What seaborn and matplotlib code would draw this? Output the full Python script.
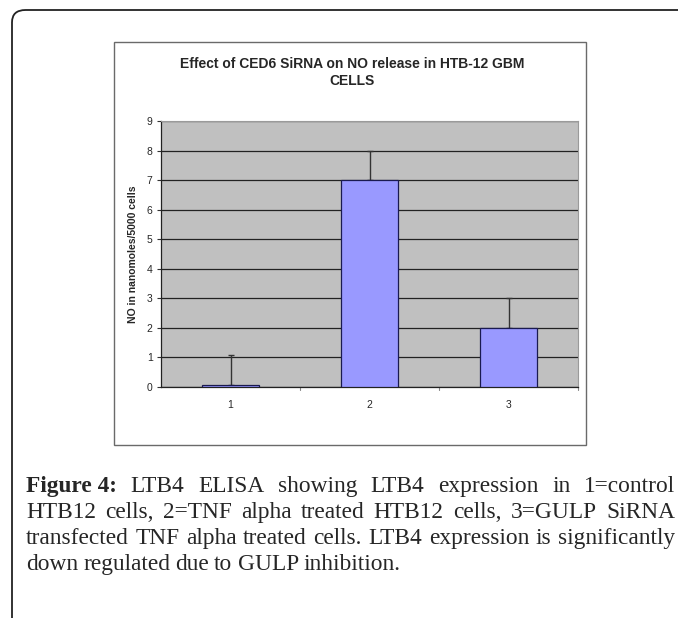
import numpy as np
import pandas as pd
import seaborn as sns
import matplotlib.pyplot as plt
from matplotlib.patches import Rectangle, FancyBboxPatch

# data
groups = ['1', '2', '3']
no_release = [0.07, 7.0, 2.0]
err_up = [1.0, 1.0, 1.0]
ytick_vals = list(range(0, 10))

title_txt = 'Effect of CED6 SiRNA on NO release in HTB-12 GBM\nCELLS'
ylab_txt = 'NO in nanomoles/5000 cells'
caption_lines = [
    'LTB4 ELISA showing LTB4 expression in 1=control',
    'HTB12 cells, 2=TNF alpha treated HTB12 cells, 3=GULP SiRNA',
    'transfected TNF alpha treated cells. LTB4 expression is significantly',
    'down regulated due to GULP inhibition.',
]

sns.set_style('white')
plt.rcParams['font.family'] = ['Liberation Sans', 'DejaVu Sans']

W, H = 678, 618
fig = plt.figure(figsize=(W / 100, H / 100), dpi=100)

def fx(px):
    return px / W

def fy(py):
    return 1 - py / H

# outer rounded box of the figure panel
outer = FancyBboxPatch((fx(12), fy(640)), fx(700), fy(10) - fy(640),
                       boxstyle='round,pad=0,rounding_size=0.02',
                       transform=fig.transFigure, fill=False,
                       edgecolor='#222222', lw=1.3)
fig.patches.append(outer)

# chart frame
frame = Rectangle((fx(114), fy(445)), fx(586) - fx(114), fy(42) - fy(445),
                  transform=fig.transFigure, fill=False,
                  edgecolor='#6a6a6a', lw=1.0)
fig.patches.append(frame)

ax = fig.add_axes([fx(161), fy(387), fx(578) - fx(161), fy(121) - fy(387)])
df = pd.DataFrame({'group': groups, 'value': no_release})
sns.barplot(data=df, x='group', y='value', color='#9999FF', width=0.41,
            edgecolor='#1a1a50', linewidth=0.9, saturation=1, errorbar=None,
            ax=ax, zorder=3)
ax.errorbar(np.arange(len(groups)), no_release,
            yerr=[np.zeros(len(groups)), err_up], fmt='none',
            ecolor='#333333', elinewidth=1.0, capsize=2.5, zorder=2)

ax.set_facecolor('#C0C0C0')
ax.set_ylim(0, 9)
ax.set_xlim(-0.5, 2.5)
ax.set_yticks(ytick_vals)
ax.yaxis.grid(True, color='#222222', lw=0.9)
ax.set_axisbelow(True)
ax.tick_params(axis='y', left=True, length=3, width=0.8, color='#333333',
               labelsize=7.5, pad=3)
ax.set_xticks(range(len(groups)))
ax.set_xticklabels(groups)
ax.tick_params(axis='x', bottom=False, labelsize=7.5, pad=6)
for b in [0.5, 1.5, 2.5]:
    ax.plot([b, b], [0, -0.1], color='#888888', lw=0.8, clip_on=False,
            transform=ax.transData)
for s in ['top', 'right']:
    ax.spines[s].set_color('#9a9a9a')
    ax.spines[s].set_linewidth(0.8)
for s in ['left', 'bottom']:
    ax.spines[s].set_color('#222222')
    ax.spines[s].set_linewidth(0.9)
ax.set_xlabel('')
ax.set_ylabel(ylab_txt, fontsize=7.5, fontweight='bold', labelpad=6)

fig.text(fx(352), fy(57), title_txt, ha='center', va='top',
         fontsize=10, fontweight='bold', linespacing=1.25)

# caption, justified like the journal layout
serif = ['Liberation Serif', 'DejaVu Serif']
cap_size = 16.8
left_px, right_px = 26, 675
baselines = [492, 518, 544, 570]
renderer = fig.canvas.get_renderer()

def width_px(t):
    return t.get_window_extent(renderer=renderer).width

for i, line in enumerate(caption_lines):
    words = line.split(' ')
    items = []
    if i == 0:
        items.append(fig.text(0, fy(baselines[i]), 'Figure 4:', family=serif,
                              fontsize=cap_size, fontweight='bold',
                              va='baseline'))
    for w in words:
        items.append(fig.text(0, fy(baselines[i]), w, family=serif,
                              fontsize=cap_size, va='baseline'))
    widths = [width_px(t) for t in items]
    if i < len(caption_lines) - 1:
        gap = (right_px - left_px - sum(widths)) / (len(items) - 1)
    else:
        gap = 0.22 * cap_size * 100 / 72
    x = left_px
    for t, wd in zip(items, widths):
        t.set_x(fx(x))
        x += wd + gap

fig.savefig('out.png', dpi=100)
